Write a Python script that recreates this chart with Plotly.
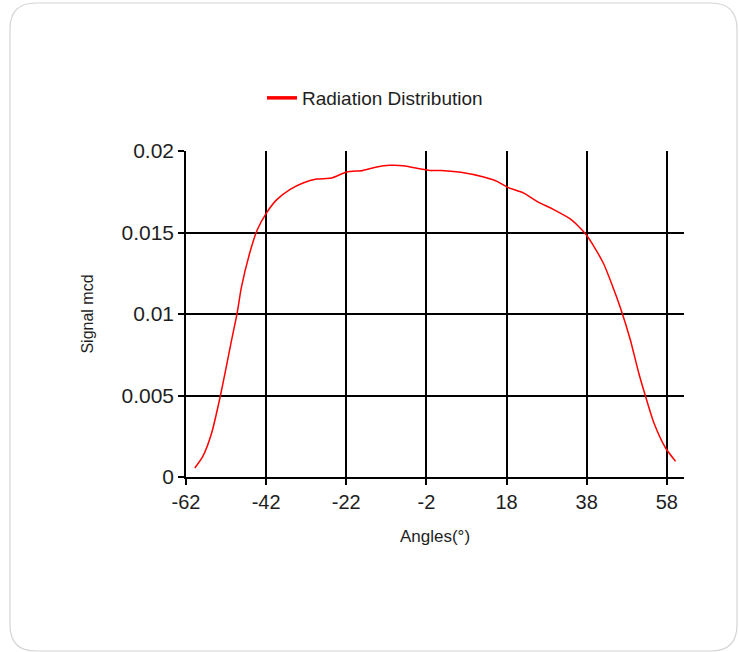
import plotly.graph_objects as go

angles = [-59.8, -57.8, -55.6, -53.4, -50.7, -49.2, -48.2, -46.1, -44.2, -41.9,
          -39.4, -36.1, -32.8, -29.4, -25.7, -21.9, -17.8, -14.4, -11.1, -7.8,
          -4.0, -1.1, 1.6, 6.6, 12.3, 15.6, 18.1, 22.3, 25.6, 29.8,
          33.9, 36.0, 37.9, 39.8, 42.3, 44.8, 46.4, 48.9, 51.0, 52.7,
          54.8, 57.7, 60.2]
signal = [0.00055, 0.00126, 0.0027, 0.0050, 0.0083, 0.0101, 0.0116, 0.01374, 0.01517, 0.0162,
          0.0170, 0.01763, 0.01804, 0.01828, 0.01834, 0.01871, 0.01881, 0.01902, 0.01912, 0.0191,
          0.01893, 0.01881, 0.01881, 0.01869, 0.0184, 0.01814, 0.01779, 0.01742, 0.01691, 0.0164,
          0.01583, 0.01537, 0.01486, 0.01415, 0.01305, 0.01149, 0.01040, 0.00842, 0.00638, 0.00495,
          0.00331, 0.00178, 0.00096]

x_ticks = [-62, -42, -22, -2, 18, 38, 58]
x_tick_labels = ["-62", "-42", "-22", "-2", "18", "38", "58"]
y_ticks = [0, 0.005, 0.01, 0.015, 0.02]
y_tick_labels = ["0", "0.005", "0.01", "0.015", "0.02"]

FONT = "Liberation Sans, Arial, sans-serif"
TXT = "#1e1e1e"

# plot area in pixels
L, R, T, B = 186, 684, 151, 477
W, H = R - L, B - T

def px(x):
    return (x - L) / W

def py(y):
    return (B - y) / H

fig = go.Figure()
fig.add_trace(go.Scatter(x=angles, y=signal, mode="lines",
                         line=dict(color="#ff0000", width=1.5, shape="spline", smoothing=0.6),
                         showlegend=False, hoverinfo="x+y"))
fig.add_trace(go.Scatter(x=[None], y=[None], mode="lines", name="Radiation Distribution",
                         line=dict(color="#ff0000", width=3.5)))

# rounded outer border
x0, x1, y0, y1, r = 10, 737, 3, 651, 26
path = (f"M {px(x0 + r)} {py(y0)} L {px(x1 - r)} {py(y0)} "
        f"Q {px(x1)} {py(y0)} {px(x1)} {py(y0 + r)} "
        f"L {px(x1)} {py(y1 - r)} Q {px(x1)} {py(y1)} {px(x1 - r)} {py(y1)} "
        f"L {px(x0 + r)} {py(y1)} Q {px(x0)} {py(y1)} {px(x0)} {py(y1 - r)} "
        f"L {px(x0)} {py(y0 + r)} Q {px(x0)} {py(y0)} {px(x0 + r)} {py(y0)} Z")
fig.add_shape(type="path", path=path, xref="paper", yref="paper",
              line=dict(color="#d4d4d4", width=1.2), layer="below")

fig.update_layout(
    width=739, height=652,
    margin=dict(l=L, r=739 - R, t=T, b=652 - B),
    paper_bgcolor="white", plot_bgcolor="white",
    font=dict(family=FONT, color=TXT),
    legend=dict(x=px(262), y=py(79), xanchor="left", yanchor="top",
                font=dict(size=19, family=FONT, color=TXT), bgcolor="rgba(0,0,0,0)"),
    xaxis=dict(range=[-62, 62.3], tickvals=x_ticks, ticktext=x_tick_labels,
               ticks="outside", ticklen=6,
               tickcolor="black", tickwidth=1.5,
               showgrid=True, gridcolor="black", gridwidth=1.5,
               showline=True, linecolor="black", linewidth=1.5,
               zeroline=False, tickfont=dict(size=20, family=FONT, color=TXT),
               title=dict(text="Angles(°)", font=dict(size=17, family=FONT, color=TXT), standoff=18)),
    yaxis=dict(range=[0, 0.02], tickvals=y_ticks, ticktext=y_tick_labels,
               ticks="outside", ticklen=6, tickcolor="black", tickwidth=1.5,
               showgrid=True, gridcolor="black", gridwidth=1.5,
               showline=True, linecolor="black", linewidth=1.5,
               zeroline=False, tickfont=dict(size=21, family=FONT, color=TXT),
               title=dict(text="Signal mcd", font=dict(size=16, family=FONT, color=TXT), standoff=24)),
)

fig.write_html("out.html", config={"displayModeBar": False},
               post_script="document.body.style.margin='0';")
